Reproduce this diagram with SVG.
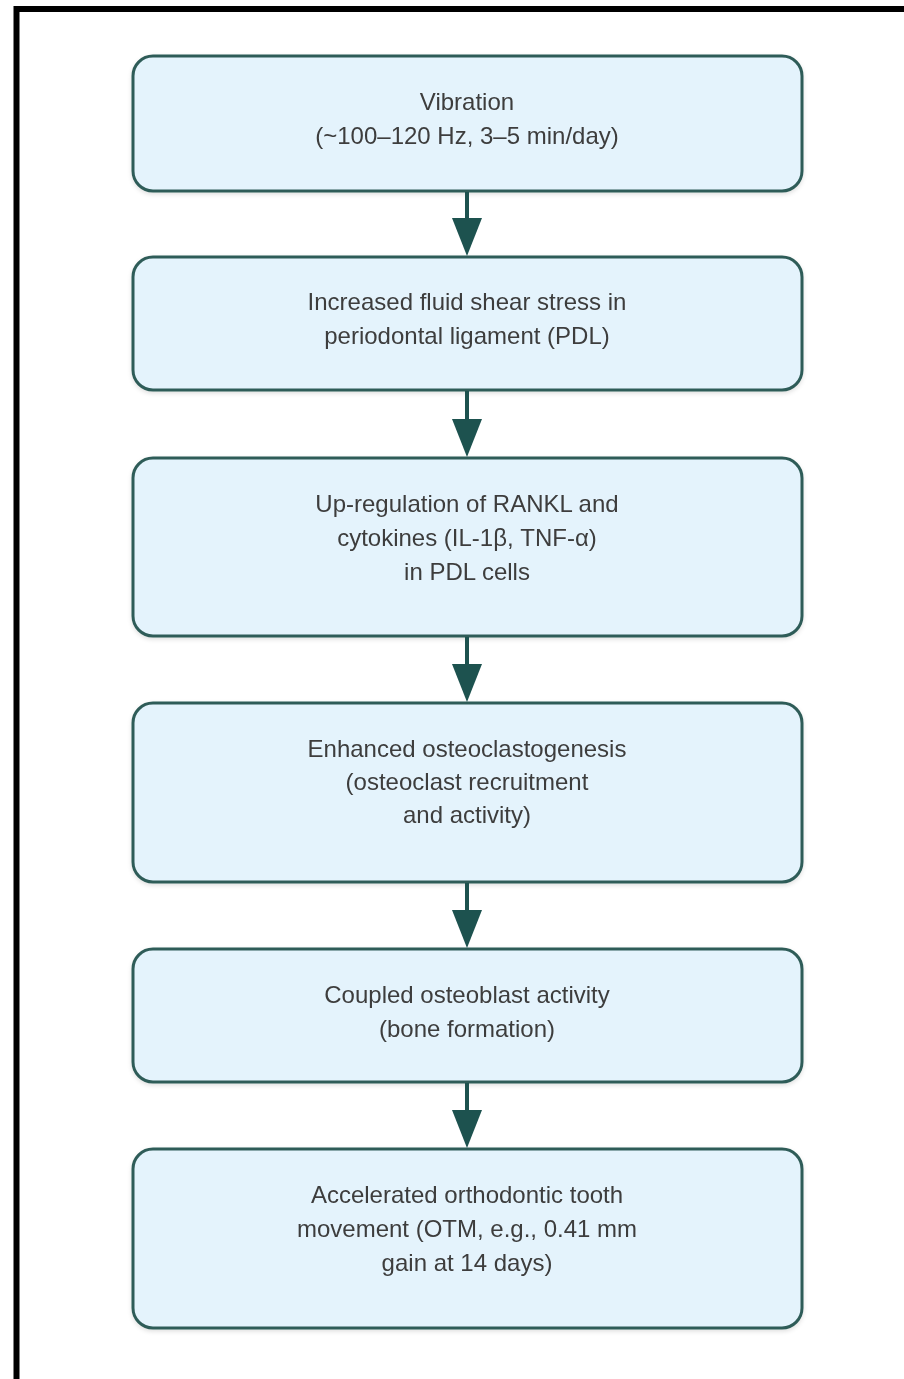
<svg xmlns="http://www.w3.org/2000/svg" width="904" height="1379" viewBox="0 0 904 1379">
<defs>
<style>
.box{fill:#e4f3fc;stroke:#2f5c58;stroke-width:3}
.lbl{font-family:"Liberation Sans",Arial,Helvetica,sans-serif;font-size:24px;fill:#3d3d3d;text-anchor:middle}
.conn{stroke:#1d524f;stroke-width:4;fill:none}
.head{fill:#1d524f}
</style>
<filter id="sh" x="-5%" y="-5%" width="110%" height="120%">
<feDropShadow dx="0" dy="2" stdDeviation="2" flood-color="#000" flood-opacity="0.12"/>
</filter>
</defs>
<rect x="0" y="0" width="904" height="1379" fill="#ffffff"/>
<path d="M16.5 1379 V9 H904" fill="none" stroke="#000" stroke-width="6"/>
<g id="n1" filter="url(#sh)"><rect class="box" x="133" y="56" width="669" height="135" rx="20"/>
<text class="lbl" x="467" y="110">Vibration</text>
<text class="lbl" x="467" y="144">(~100–120 Hz, 3–5 min/day)</text></g>
<g id="n2" filter="url(#sh)"><rect class="box" x="133" y="257" width="669" height="133" rx="20"/>
<text class="lbl" x="467" y="310">Increased fluid shear stress in</text>
<text class="lbl" x="467" y="344">periodontal ligament (PDL)</text></g>
<g id="n3" filter="url(#sh)"><rect class="box" x="133" y="458" width="669" height="178" rx="20"/>
<text class="lbl" x="467" y="512">Up-regulation of RANKL and</text>
<text class="lbl" x="467" y="546">cytokines (IL-1β, TNF-α)</text>
<text class="lbl" x="467" y="580">in PDL cells</text></g>
<g id="n4" filter="url(#sh)"><rect class="box" x="133" y="703" width="669" height="179" rx="20"/>
<text class="lbl" x="467" y="757">Enhanced osteoclastogenesis</text>
<text class="lbl" x="467" y="790">(osteoclast recruitment</text>
<text class="lbl" x="467" y="823">and activity)</text></g>
<g id="n5" filter="url(#sh)"><rect class="box" x="133" y="949" width="669" height="133" rx="20"/>
<text class="lbl" x="467" y="1003">Coupled osteoblast activity</text>
<text class="lbl" x="467" y="1037">(bone formation)</text></g>
<g id="n6" filter="url(#sh)"><rect class="box" x="133" y="1149" width="669" height="179" rx="20"/>
<text class="lbl" x="467" y="1203">Accelerated orthodontic tooth</text>
<text class="lbl" x="467" y="1237">movement (OTM, e.g., 0.41 mm</text>
<text class="lbl" x="467" y="1271">gain at 14 days)</text></g>
<g id="connectors">
<line class="conn" x1="467" y1="192" x2="467" y2="220"/><polygon class="head" points="452,218 482,218 467,256"/>
<line class="conn" x1="467" y1="391" x2="467" y2="421"/><polygon class="head" points="452,419 482,419 467,457"/>
<line class="conn" x1="467" y1="637" x2="467" y2="666"/><polygon class="head" points="452,664 482,664 467,702"/>
<line class="conn" x1="467" y1="883" x2="467" y2="912"/><polygon class="head" points="452,910 482,910 467,948"/>
<line class="conn" x1="467" y1="1083" x2="467" y2="1112"/><polygon class="head" points="452,1110 482,1110 467,1148"/>
</g>
</svg>
